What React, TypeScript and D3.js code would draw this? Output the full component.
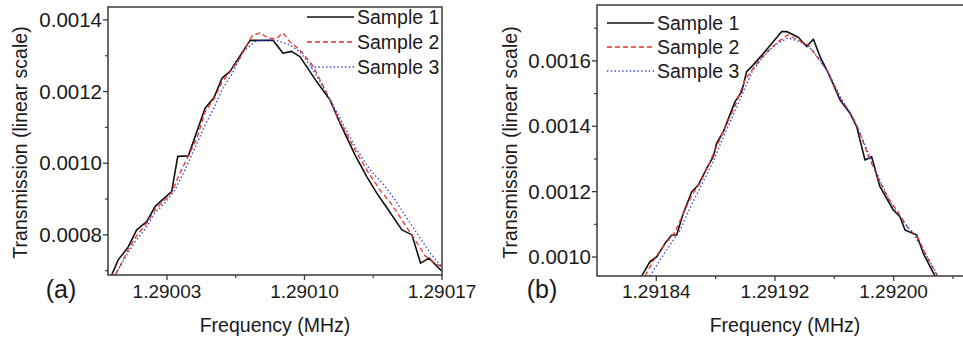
import React from "react";
import * as d3 from "d3";

// ---------- Panel (a) data ----------
const A_S1_F = [1.2900019,1.2900052,1.2900103,1.2900146,1.2900197,1.2900239,1.2900282,1.2900324,1.2900355,1.2900409,1.2900494,1.290054,1.290058,1.290062,1.2900723,1.2900841,1.2900891,1.2900934,1.2900977,1.2901062,1.290113,1.2901181,1.2901257,1.2901317,1.2901368,1.2901415,1.2901496,1.2901547,1.2901591,1.2901634,1.2901698];
const A_S1_T = [0.0006884,0.0007302,0.0007665,0.000814,0.0008371,0.000879,0.0009005,0.0009208,0.001019,0.0010205,0.0011536,0.0011837,0.0012373,0.0012557,0.0013428,0.0013428,0.0013071,0.0013121,0.0012976,0.0012278,0.0011767,0.0011117,0.0010233,0.0009627,0.0009164,0.000879,0.000814,0.0008,0.000721,0.000735,0.0006995];
const A_S2_F = [1.2900041,1.2900102,1.2900148,1.2900199,1.2900239,1.290029,1.2900326,1.2900366,1.2900407,1.2900453,1.2900494,1.290054,1.290058,1.2900626,1.2900672,1.2900733,1.2900774,1.2900814,1.2900855,1.2900891,1.2900926,1.2900977,1.2901043,1.2901105,1.2901181,1.2901257,1.2901323,1.2901384,1.2901446,1.2901512,1.2901563,1.2901614,1.2901654,1.2901699];
const A_S2_T = [0.0006912,0.0007581,0.0008,0.0008335,0.0008698,0.0008977,0.00092,0.000973,0.0010177,0.0010707,0.0011433,0.0011795,0.001227,0.0012577,0.001294,0.0013553,0.0013637,0.0013498,0.001347,0.0013637,0.0013386,0.0013163,0.0012716,0.0012047,0.0011153,0.0010372,0.0009758,0.0009256,0.0008837,0.0008279,0.000786,0.0007414,0.0007246,0.0007107];
const A_S3_F = [1.2900036,1.2900087,1.2900137,1.2900193,1.2900239,1.290029,1.2900341,1.2900392,1.2900443,1.2900494,1.290054,1.290058,1.2900631,1.2900687,1.2900753,1.2900825,1.2900865,1.2900926,1.2900977,1.2901028,1.2901089,1.2901145,1.2901206,1.2901267,1.2901334,1.29014,1.2901461,1.2901527,1.2901588,1.2901639,1.2901699];
const A_S3_T = [0.0006884,0.0007358,0.0007805,0.0008195,0.0008614,0.0008893,0.0009256,0.0009814,0.0010428,0.001107,0.0011544,0.0012047,0.0012493,0.0013107,0.0013414,0.0013442,0.0013414,0.0013302,0.0013107,0.0012744,0.0012186,0.0011628,0.0010986,0.0010372,0.0009814,0.0009423,0.0008977,0.0008419,0.0007916,0.0007498,0.0007107];

// ---------- Panel (b) data ----------
const B_S1_F = [1.2918301,1.2918357,1.2918403,1.2918459,1.2918504,1.2918537,1.2918582,1.2918639,1.2918683,1.291874,1.2918784,1.2918807,1.2918852,1.2918931,1.2918976,1.2919009,1.2919054,1.2919133,1.2919246,1.2919279,1.2919357,1.2919414,1.2919459,1.2919504,1.291956,1.2919639,1.2919706,1.2919751,1.2919807,1.2919852,1.2919908,1.2919998,1.2920043,1.2920077,1.2920156,1.29202,1.2920279];
const B_S1_T = [0.0009418,0.0009856,0.0010009,0.0010419,0.0010674,0.0010674,0.0011338,0.0011999,0.0012204,0.0012715,0.001307,0.0013481,0.0013836,0.0014754,0.001506,0.0015672,0.0015878,0.0016285,0.0016897,0.0016897,0.0016726,0.0016438,0.0016664,0.0016132,0.0015623,0.0014806,0.0014399,0.0013989,0.0012969,0.001307,0.0012152,0.0011439,0.0011234,0.0010827,0.0010674,0.0010113,0.0009418];
const B_S2_F = [1.2918324,1.2918391,1.2918459,1.2918526,1.2918587,1.2918641,1.2918695,1.2918749,1.2918802,1.2918863,1.2918931,1.2918998,1.2919065,1.291914,1.291922,1.2919288,1.2919355,1.2919423,1.291949,1.2919558,1.2919639,1.2919706,1.291976,1.2919827,1.2919895,1.2919962,1.292003,1.2920097,1.2920165,1.2920219,1.2920279,1.2920299];
const B_S2_T = [0.0009418,0.0009969,0.0010398,0.0010765,0.0011378,0.0011898,0.0012265,0.0012786,0.0013337,0.0013949,0.0014622,0.0015418,0.0015847,0.0016245,0.0016582,0.0016796,0.0016643,0.001649,0.0016092,0.0015663,0.0014867,0.0014439,0.0013949,0.0013122,0.0012418,0.0011806,0.0011378,0.0010888,0.0010582,0.0010061,0.0009541,0.0009418];
const B_S3_F = [1.2918357,1.2918425,1.2918492,1.291856,1.2918627,1.2918681,1.2918735,1.2918789,1.2918843,1.291891,1.2918978,1.2919045,1.2919113,1.29192,1.2919288,1.2919369,1.2919436,1.2919504,1.2919571,1.2919652,1.2919719,1.2919787,1.2919854,1.2919922,1.2919989,1.2920057,1.2920124,1.2920192,1.2920259,1.2920299];
const B_S3_T = [0.0009418,0.0009908,0.0010367,0.0010827,0.00115,0.001199,0.001248,0.0012969,0.0013582,0.0014255,0.0014959,0.0015663,0.0016092,0.001649,0.0016704,0.0016582,0.0016398,0.0016031,0.0015541,0.0014806,0.0014316,0.0013643,0.0012908,0.0012204,0.0011592,0.0011133,0.0010765,0.0010276,0.0009755,0.0009418];

// ---------- Ticks & labels ----------
const A_X_TICKS = [1.29003, 1.2901, 1.29017];
const A_X_MINOR = [1.290065, 1.290135];
const A_Y_TICKS = [0.0008, 0.001, 0.0012, 0.0014];
const A_Y_MINOR = [0.0007, 0.0009, 0.0011, 0.0013];
const B_X_TICKS = [1.29184, 1.29192, 1.292];
const B_X_MINOR = [1.29188, 1.29196, 1.29204];
const B_Y_TICKS = [0.001, 0.0012, 0.0014, 0.0016];
const B_Y_MINOR = [0.0011, 0.0013, 0.0015, 0.0017];
const SERIES_NAMES = ["Sample 1", "Sample 2", "Sample 3"];
const X_TITLE = "Frequency (MHz)";
const Y_TITLE = "Transmission (linear scale)";

const FONT = "'Liberation Sans', Arial, Helvetica, sans-serif";
const TXT = "#1a1a1a";
const AX = "#3a3a3a";
const STYLES = [
  { stroke: "#111", width: 1.6, dash: undefined as string | undefined },
  { stroke: "#e8342c", width: 1.3, dash: "5,3" },
  { stroke: "#3446d8", width: 1.4, dash: "1.4,2.4" },
];

type PanelProps = {
  id: string;
  left: number; right: number; top: number; bottom: number;
  xDomain: [number, number]; yDomain: [number, number];
  series: { f: number[]; t: number[] }[];
  xTicks: number[]; xMinor: number[]; yTicks: number[]; yMinor: number[];
  legendX: number; legendY: number; legendStep: number;
  label: string; labelX: number;
  yTitleX: number; xTitleX: number;
};

function Panel(p: PanelProps) {
  const x = d3.scaleLinear().domain(p.xDomain).range([p.left, p.right]);
  const y = d3.scaleLinear().domain(p.yDomain).range([p.bottom, p.top]);
  const line = d3.line<[number, number]>().x((d) => x(d[0])).y((d) => y(d[1]));
  const fs = 19.5;
  return (
    <g>
      <defs>
        <clipPath id={p.id}>
          <rect x={p.left} y={p.top} width={p.right - p.left} height={p.bottom - p.top} />
        </clipPath>
      </defs>
      <g clipPath={`url(#${p.id})`}>
        {p.series.map((s, i) => (
          <path key={i} d={line(s.f.map((f, j) => [f, s.t[j]] as [number, number])) || ""}
            fill="none" stroke={STYLES[i].stroke} strokeWidth={STYLES[i].width}
            strokeDasharray={STYLES[i].dash} strokeLinejoin="round" />
        ))}
      </g>
      <rect x={p.left} y={p.top} width={p.right - p.left} height={p.bottom - p.top}
        fill="none" stroke={AX} strokeWidth={1.5} />
      {p.yTicks.map((v) => (
        <g key={"y" + v}>
          <line x1={p.left - 5} x2={p.left} y1={y(v)} y2={y(v)} stroke={AX} strokeWidth={1.3} />
          <text x={p.left - 6} y={y(v)} dy="0.35em" textAnchor="end" fontSize={20.5} fill={TXT} fontFamily={FONT}>
            {d3.format(".4f")(v)}
          </text>
        </g>
      ))}
      {p.yMinor.map((v) => (
        <line key={"ym" + v} x1={p.left - 3} x2={p.left} y1={y(v)} y2={y(v)} stroke={AX} strokeWidth={1.2} />
      ))}
      {p.xTicks.map((v) => (
        <g key={"x" + v}>
          <line x1={x(v)} x2={x(v)} y1={p.bottom} y2={p.bottom + 5} stroke={AX} strokeWidth={1.3} />
          <text x={x(v)} y={298} textAnchor="middle" fontSize={19} fill={TXT} fontFamily={FONT}>
            {d3.format(".5f")(v)}
          </text>
        </g>
      ))}
      {p.xMinor.map((v) => (
        <line key={"xm" + v} x1={x(v)} x2={x(v)} y1={p.bottom} y2={p.bottom + 3} stroke={AX} strokeWidth={1.2} />
      ))}
      {SERIES_NAMES.map((n, i) => {
        const ly = p.legendY + i * p.legendStep;
        return (
          <g key={n}>
            <line x1={p.legendX} x2={p.legendX + 47} y1={ly} y2={ly}
              stroke={STYLES[i].stroke} strokeWidth={STYLES[i].width} strokeDasharray={STYLES[i].dash} />
            <text x={p.legendX + 50} y={ly + 7} fontSize={fs} fill={TXT} fontFamily={FONT}>{n}</text>
          </g>
        );
      })}
      <text x={p.labelX} y={298} textAnchor="middle" fontSize={25} fill={TXT} fontFamily={FONT}>{p.label}</text>
      <text x={p.xTitleX} y={332} textAnchor="middle" fontSize={fs} fill={TXT} fontFamily={FONT}>{X_TITLE}</text>
      <text transform={`translate(${p.yTitleX},142.5) rotate(-90)`} textAnchor="middle" fontSize={fs} fill={TXT} fontFamily={FONT}>
        {Y_TITLE}
      </text>
    </g>
  );
}

export default function App() {
  return (
    <svg width={963} height={340} style={{ position: "absolute", left: 0, top: 0, background: "#fff" }}>
      <rect x={0} y={0} width={963} height={340} fill="#fff" />
      <Panel id="clipA" left={108} right={442} top={7} bottom={275}
        xDomain={[1.29, 1.29017]} yDomain={[0.000688, 0.001436]}
        series={[{ f: A_S1_F, t: A_S1_T }, { f: A_S2_F, t: A_S2_T }, { f: A_S3_F, t: A_S3_T }]}
        xTicks={A_X_TICKS} xMinor={A_X_MINOR} yTicks={A_Y_TICKS} yMinor={A_Y_MINOR}
        legendX={307} legendY={17} legendStep={25}
        label="(a)" labelX={61} yTitleX={27} xTitleX={275} />
      <Panel id="clipB" left={597} right={967.75} top={5} bottom={276}
        xDomain={[1.2918, 1.29205]} yDomain={[0.000942, 0.001771]}
        series={[{ f: B_S1_F, t: B_S1_T }, { f: B_S2_F, t: B_S2_T }, { f: B_S3_F, t: B_S3_T }]}
        xTicks={B_X_TICKS} xMinor={B_X_MINOR} yTicks={B_Y_TICKS} yMinor={B_Y_MINOR}
        legendX={607} legendY={23} legendStep={24}
        label="(b)" labelX={542} yTitleX={517} xTitleX={785} />
    </svg>
  );
}
